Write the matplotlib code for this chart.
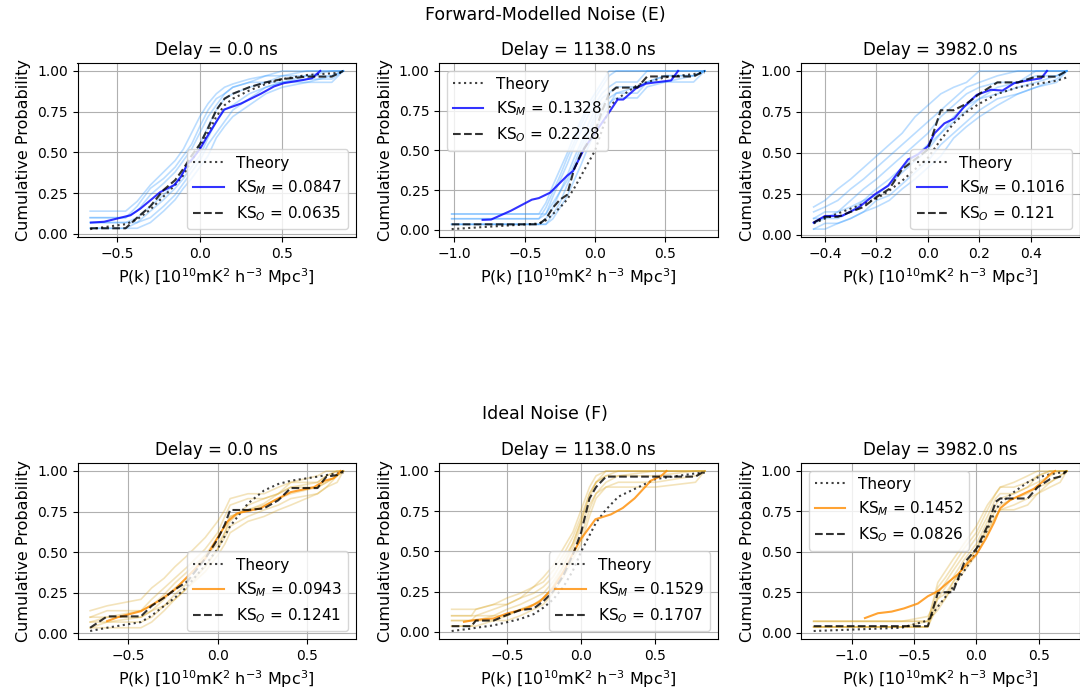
import numpy as np
import matplotlib.pyplot as plt

# ---- top row: forward-modelled noise (E) ----
delays = ['0.0', '1138.0', '3982.0']

grid_e0 = [-0.665, -0.45, -0.38, -0.3, -0.22, -0.15, -0.1, -0.05, 0.0, 0.05, 0.1, 0.15, 0.2, 0.3, 0.4, 0.5, 0.65, 0.8, 0.87]
obs_e0 = [0.035, 0.035, 0.10, 0.17, 0.27, 0.33, 0.40, 0.48, 0.55, 0.65, 0.76, 0.83, 0.86, 0.90, 0.93, 0.95, 0.965, 0.965, 1.0]
theory_e0 = [0.03, 0.06, 0.09, 0.15, 0.23, 0.30, 0.36, 0.45, 0.53, 0.62, 0.72, 0.79, 0.83, 0.88, 0.92, 0.95, 0.975, 0.985, 0.99]
med_x_e0 = [-0.66, -0.58, -0.42, -0.36, -0.24, -0.155, -0.115, -0.075, -0.045, 0.0, 0.046, 0.107, 0.147, 0.25, 0.37, 0.45, 0.51, 0.63, 0.68, 0.73]
med_y_e0 = [0.07, 0.075, 0.115, 0.156, 0.257, 0.3, 0.35, 0.43, 0.46, 0.52, 0.6, 0.7, 0.763, 0.8, 0.86, 0.905, 0.925, 0.945, 0.955, 1.0]
boot_e0 = [
    [0.14, 0.14, 0.20, 0.30, 0.38, 0.45, 0.52, 0.62, 0.72, 0.80, 0.86, 0.90, 0.92, 0.95, 0.97, 1.0, 1.0, 1.0, 1.0],
    [0.10, 0.10, 0.14, 0.24, 0.31, 0.38, 0.45, 0.52, 0.62, 0.72, 0.79, 0.86, 0.90, 0.93, 0.93, 0.97, 1.0, 1.0, 1.0],
    [0.07, 0.07, 0.10, 0.17, 0.24, 0.31, 0.38, 0.45, 0.55, 0.66, 0.76, 0.83, 0.86, 0.90, 0.93, 0.93, 0.97, 0.97, 1.0],
    [0.035, 0.035, 0.07, 0.14, 0.21, 0.28, 0.34, 0.41, 0.48, 0.59, 0.69, 0.76, 0.79, 0.86, 0.90, 0.93, 0.93, 0.97, 1.0],
    [0.07, 0.07, 0.07, 0.10, 0.17, 0.24, 0.31, 0.38, 0.45, 0.55, 0.62, 0.69, 0.76, 0.83, 0.90, 0.93, 0.95, 0.95, 1.0],
    [0.035, 0.035, 0.035, 0.07, 0.14, 0.21, 0.28, 0.34, 0.41, 0.48, 0.59, 0.66, 0.72, 0.79, 0.86, 0.90, 0.93, 0.93, 1.0],
    [0.10, 0.10, 0.17, 0.28, 0.34, 0.41, 0.48, 0.55, 0.66, 0.76, 0.83, 0.86, 0.90, 0.93, 0.97, 0.97, 0.97, 1.0, 1.0],
]

grid_e1 = [-1.02, -0.4, -0.35, -0.3, -0.25, -0.2, -0.15, -0.1, -0.05, 0.0, 0.05, 0.1, 0.15, 0.3, 0.37, 0.5, 0.7, 0.78]
obs_e1 = [0.035, 0.035, 0.07, 0.14, 0.19, 0.22, 0.38, 0.48, 0.55, 0.62, 0.75, 0.86, 0.895, 0.895, 0.965, 0.965, 0.965, 1.0]
theory_e1 = [0.005, 0.04, 0.06, 0.10, 0.14, 0.19, 0.26, 0.34, 0.42, 0.50, 0.63, 0.77, 0.82, 0.91, 0.93, 0.96, 0.98, 0.99]
med_x_e1 = [-0.8, -0.74, -0.6, -0.45, -0.4, -0.32, -0.2, -0.157, -0.075, 0.03, 0.077, 0.16, 0.2, 0.29, 0.36, 0.54, 0.59]
med_y_e1 = [0.063, 0.065, 0.12, 0.19, 0.2, 0.234, 0.34, 0.37, 0.516, 0.65, 0.71, 0.82, 0.82, 0.89, 0.92, 0.94, 1.0]
boot_e1 = [
    [0.10, 0.10, 0.17, 0.28, 0.38, 0.48, 0.59, 0.69, 0.79, 0.86, 0.93, 1.0, 1.0, 1.0, 1.0, 1.0, 1.0, 1.0],
    [0.07, 0.07, 0.10, 0.21, 0.31, 0.41, 0.52, 0.62, 0.72, 0.79, 0.86, 0.90, 0.93, 0.93, 1.0, 1.0, 1.0, 1.0],
    [0.035, 0.035, 0.07, 0.14, 0.24, 0.34, 0.45, 0.55, 0.66, 0.76, 0.83, 0.86, 0.90, 0.90, 0.93, 0.93, 0.97, 1.0],
    [0.10, 0.10, 0.10, 0.17, 0.24, 0.31, 0.41, 0.52, 0.62, 0.72, 0.79, 0.83, 0.86, 0.86, 0.93, 0.97, 0.97, 1.0],
    [0.035, 0.035, 0.035, 0.10, 0.17, 0.28, 0.38, 0.48, 0.59, 0.69, 0.76, 0.80, 0.83, 0.83, 0.90, 0.93, 0.93, 1.0],
    [0.07, 0.07, 0.14, 0.24, 0.34, 0.45, 0.55, 0.66, 0.76, 0.83, 0.90, 0.97, 1.0, 1.0, 1.0, 1.0, 1.0, 1.0],
    [0.035, 0.035, 0.035, 0.07, 0.14, 0.21, 0.31, 0.41, 0.52, 0.62, 0.72, 0.79, 0.86, 0.90, 0.93, 0.97, 0.97, 1.0],
]

grid_e2 = [-0.444, -0.4, -0.35, -0.3, -0.25, -0.2, -0.15, -0.1, -0.05, 0.0, 0.05, 0.1, 0.15, 0.2, 0.27, 0.35, 0.42, 0.5, 0.54]
obs_e2 = [0.075, 0.11, 0.11, 0.14, 0.17, 0.23, 0.28, 0.40, 0.46, 0.52, 0.76, 0.76, 0.80, 0.86, 0.93, 0.93, 0.965, 0.965, 1.0]
theory_e2 = [0.07, 0.10, 0.13, 0.16, 0.19, 0.22, 0.27, 0.33, 0.40, 0.47, 0.58, 0.68, 0.75, 0.80, 0.86, 0.90, 0.92, 0.94, 0.96]
med_x_e2 = [-0.444, -0.4, -0.335, -0.27, -0.206, -0.154, -0.116, -0.077, -0.039, 0.0, 0.026, 0.064, 0.103, 0.14, 0.19, 0.245, 0.29, 0.335, 0.4, 0.44, 0.463]
med_y_e2 = [0.075, 0.115, 0.115, 0.166, 0.247, 0.3, 0.38, 0.46, 0.49, 0.54, 0.62, 0.68, 0.71, 0.78, 0.854, 0.885, 0.88, 0.925, 0.945, 0.955, 1.0]
boot_e2 = [
    [0.17, 0.21, 0.28, 0.34, 0.41, 0.48, 0.55, 0.62, 0.72, 0.79, 0.86, 0.90, 0.93, 1.0, 1.0, 1.0, 1.0, 1.0, 1.0],
    [0.14, 0.17, 0.21, 0.28, 0.34, 0.41, 0.48, 0.55, 0.62, 0.69, 0.76, 0.83, 0.90, 0.93, 0.97, 1.0, 1.0, 1.0, 1.0],
    [0.10, 0.14, 0.14, 0.21, 0.28, 0.34, 0.41, 0.48, 0.55, 0.62, 0.72, 0.79, 0.86, 0.90, 0.93, 0.93, 1.0, 1.0, 1.0],
    [0.07, 0.10, 0.10, 0.14, 0.21, 0.28, 0.34, 0.41, 0.48, 0.55, 0.62, 0.72, 0.79, 0.83, 0.86, 0.90, 0.93, 0.97, 1.0],
    [0.035, 0.07, 0.07, 0.10, 0.14, 0.21, 0.24, 0.31, 0.38, 0.45, 0.55, 0.62, 0.69, 0.76, 0.83, 0.86, 0.90, 0.93, 1.0],
    [0.10, 0.10, 0.14, 0.17, 0.21, 0.24, 0.31, 0.38, 0.45, 0.52, 0.62, 0.69, 0.76, 0.83, 0.90, 0.93, 0.97, 0.97, 1.0],
    [0.035, 0.035, 0.07, 0.10, 0.14, 0.17, 0.21, 0.28, 0.34, 0.41, 0.48, 0.59, 0.66, 0.72, 0.79, 0.86, 0.90, 0.95, 1.0],
]

ks_model_e = ['0.0847', '0.1328', '0.1016']
ks_obs_e = ['0.0635', '0.2228', '0.121']

# ---- bottom row: ideal noise (F) ----
grid_f0 = [-0.715, -0.62, -0.43, -0.37, -0.3, -0.24, -0.17, -0.07, 0.0, 0.04, 0.07, 0.17, 0.26, 0.34, 0.41, 0.56, 0.61, 0.67, 0.705]
obs_f0 = [0.035, 0.105, 0.105, 0.17, 0.22, 0.27, 0.32, 0.46, 0.58, 0.67, 0.76, 0.76, 0.77, 0.82, 0.895, 0.895, 0.965, 0.975, 1.0]
theory_f0 = [0.015, 0.035, 0.07, 0.11, 0.17, 0.22, 0.29, 0.42, 0.52, 0.60, 0.66, 0.80, 0.88, 0.92, 0.94, 0.965, 0.975, 0.985, 0.99]
med_x_f0 = [-0.62, -0.56, -0.43, -0.33, -0.24, -0.16, -0.07, 0.0, 0.056, 0.11, 0.24, 0.32, 0.41, 0.54, 0.6, 0.65, 0.69]
med_y_f0 = [0.076, 0.1, 0.137, 0.2, 0.27, 0.36, 0.46, 0.59, 0.69, 0.74, 0.77, 0.82, 0.87, 0.9, 0.94, 0.955, 1.0]
boot_f0 = [
    [0.14, 0.17, 0.21, 0.28, 0.34, 0.41, 0.48, 0.59, 0.69, 0.76, 0.83, 0.86, 0.86, 0.90, 0.93, 0.97, 1.0, 1.0, 1.0],
    [0.10, 0.14, 0.14, 0.21, 0.28, 0.34, 0.41, 0.52, 0.62, 0.72, 0.79, 0.83, 0.83, 0.86, 0.90, 0.93, 0.97, 1.0, 1.0],
    [0.07, 0.10, 0.10, 0.14, 0.21, 0.28, 0.34, 0.48, 0.59, 0.66, 0.72, 0.76, 0.79, 0.83, 0.86, 0.90, 0.93, 0.97, 1.0],
    [0.035, 0.07, 0.07, 0.10, 0.17, 0.24, 0.31, 0.41, 0.52, 0.59, 0.66, 0.72, 0.76, 0.79, 0.83, 0.86, 0.90, 0.93, 1.0],
    [0.035, 0.035, 0.035, 0.07, 0.14, 0.21, 0.28, 0.38, 0.48, 0.55, 0.62, 0.69, 0.72, 0.76, 0.79, 0.86, 0.90, 0.97, 1.0],
    [0.10, 0.10, 0.14, 0.17, 0.24, 0.31, 0.38, 0.48, 0.55, 0.62, 0.69, 0.79, 0.83, 0.86, 0.93, 0.93, 0.97, 1.0, 1.0],
    [0.07, 0.07, 0.10, 0.14, 0.17, 0.21, 0.28, 0.41, 0.52, 0.62, 0.72, 0.76, 0.80, 0.86, 0.90, 0.90, 0.93, 0.97, 1.0],
]

grid_f1 = [-0.873, -0.74, -0.71, -0.59, -0.5, -0.41, -0.32, -0.255, -0.19, -0.12, -0.056, 0.0, 0.056, 0.1, 0.167, 0.25, 0.5, 0.77, 0.833]
obs_f1 = [0.035, 0.035, 0.07, 0.07, 0.105, 0.135, 0.145, 0.19, 0.25, 0.35, 0.48, 0.62, 0.83, 0.90, 0.965, 0.965, 0.965, 0.965, 1.0]
theory_f1 = [0.005, 0.02, 0.025, 0.04, 0.06, 0.08, 0.11, 0.15, 0.20, 0.28, 0.38, 0.50, 0.60, 0.68, 0.76, 0.84, 0.95, 0.985, 0.99]
med_x_f1 = [-0.79, -0.72, -0.59, -0.5, -0.37, -0.28, -0.19, -0.12, -0.056, 0.0, 0.096, 0.2, 0.28, 0.36, 0.47, 0.54, 0.575]
med_y_f1 = [0.062, 0.073, 0.083, 0.114, 0.145, 0.187, 0.27, 0.373, 0.488, 0.58, 0.70, 0.73, 0.77, 0.83, 0.94, 0.97, 1.0]
boot_f1 = [
    [0.14, 0.14, 0.14, 0.17, 0.21, 0.24, 0.28, 0.34, 0.41, 0.52, 0.62, 0.76, 0.90, 0.97, 1.0, 1.0, 1.0, 1.0, 1.0],
    [0.10, 0.10, 0.10, 0.14, 0.17, 0.21, 0.24, 0.28, 0.34, 0.45, 0.55, 0.69, 0.83, 0.93, 1.0, 1.0, 1.0, 1.0, 1.0],
    [0.07, 0.07, 0.10, 0.10, 0.14, 0.17, 0.21, 0.24, 0.31, 0.41, 0.52, 0.66, 0.79, 0.86, 0.93, 0.97, 0.97, 1.0, 1.0],
    [0.035, 0.035, 0.07, 0.07, 0.10, 0.14, 0.17, 0.21, 0.28, 0.38, 0.48, 0.59, 0.76, 0.86, 0.90, 0.93, 0.93, 0.97, 1.0],
    [0.035, 0.035, 0.035, 0.07, 0.07, 0.10, 0.14, 0.17, 0.24, 0.34, 0.45, 0.55, 0.72, 0.83, 0.90, 0.90, 0.90, 0.93, 1.0],
    [0.07, 0.07, 0.07, 0.10, 0.10, 0.14, 0.17, 0.21, 0.28, 0.41, 0.55, 0.69, 0.86, 0.93, 0.97, 0.97, 1.0, 1.0, 1.0],
    [0.10, 0.10, 0.14, 0.17, 0.17, 0.21, 0.28, 0.31, 0.38, 0.48, 0.59, 0.72, 0.86, 0.93, 0.97, 1.0, 1.0, 1.0, 1.0],
]

grid_f2 = [-1.305, -0.6, -0.39, -0.31, -0.25, -0.19, -0.1, 0.0, 0.088, 0.154, 0.19, 0.3, 0.41, 0.49, 0.59, 0.67, 0.724]
obs_f2 = [0.04, 0.04, 0.04, 0.245, 0.25, 0.25, 0.43, 0.52, 0.66, 0.81, 0.83, 0.83, 0.83, 0.90, 0.95, 0.965, 1.0]
theory_f2 = [0.01, 0.03, 0.075, 0.16, 0.22, 0.28, 0.38, 0.50, 0.64, 0.76, 0.80, 0.87, 0.93, 0.96, 0.98, 0.99, 0.995]
med_x_f2 = [-0.894, -0.79, -0.68, -0.58, -0.47, -0.39, -0.31, -0.23, -0.15, -0.07, 0.0, 0.074, 0.14, 0.19, 0.27, 0.38, 0.46, 0.54, 0.59, 0.63]
med_y_f2 = [0.09, 0.12, 0.13, 0.15, 0.18, 0.225, 0.256, 0.31, 0.36, 0.43, 0.485, 0.58, 0.68, 0.77, 0.82, 0.86, 0.89, 0.94, 0.98, 1.0]
boot_f2 = [
    [0.07, 0.07, 0.07, 0.31, 0.38, 0.45, 0.55, 0.66, 0.79, 0.86, 0.90, 0.93, 0.97, 1.0, 1.0, 1.0, 1.0],
    [0.035, 0.035, 0.035, 0.24, 0.31, 0.38, 0.48, 0.59, 0.72, 0.83, 0.86, 0.86, 0.90, 0.93, 0.97, 1.0, 1.0],
    [0.07, 0.07, 0.10, 0.21, 0.28, 0.34, 0.45, 0.55, 0.69, 0.79, 0.83, 0.86, 0.90, 0.97, 1.0, 1.0, 1.0],
    [0.035, 0.035, 0.035, 0.17, 0.21, 0.28, 0.38, 0.48, 0.62, 0.72, 0.76, 0.79, 0.83, 0.86, 0.93, 0.97, 1.0],
    [0.035, 0.035, 0.07, 0.28, 0.34, 0.41, 0.52, 0.62, 0.76, 0.86, 0.90, 0.90, 0.93, 0.97, 1.0, 1.0, 1.0],
    [0.07, 0.07, 0.07, 0.14, 0.21, 0.31, 0.41, 0.52, 0.66, 0.76, 0.79, 0.83, 0.86, 0.90, 0.93, 0.97, 1.0],
    [0.035, 0.035, 0.035, 0.21, 0.24, 0.31, 0.41, 0.52, 0.64, 0.72, 0.76, 0.76, 0.79, 0.86, 0.90, 0.93, 1.0],
]

ks_model_f = ['0.0943', '0.1529', '0.1452']
ks_obs_f = ['0.1241', '0.1707', '0.0826']

rows = [
    dict(grids=[grid_e0, grid_e1, grid_e2], obs=[obs_e0, obs_e1, obs_e2],
         theory=[theory_e0, theory_e1, theory_e2],
         med_x=[med_x_e0, med_x_e1, med_x_e2], med_y=[med_y_e0, med_y_e1, med_y_e2],
         boot=[boot_e0, boot_e1, boot_e2], ks_m=ks_model_e, ks_o=ks_obs_e,
         boot_color='dodgerblue', med_color='blue',
         legend_loc=['lower right', 'upper left', 'lower right']),
    dict(grids=[grid_f0, grid_f1, grid_f2], obs=[obs_f0, obs_f1, obs_f2],
         theory=[theory_f0, theory_f1, theory_f2],
         med_x=[med_x_f0, med_x_f1, med_x_f2], med_y=[med_y_f0, med_y_f1, med_y_f2],
         boot=[boot_f0, boot_f1, boot_f2], ks_m=ks_model_f, ks_o=ks_obs_f,
         boot_color='goldenrod', med_color='darkorange',
         legend_loc=['lower right', 'lower right', 'upper left']),
]

W, H = 1080, 696
fig = plt.figure(figsize=(W / 100, H / 100), dpi=100)

lefts = [77.5, 439, 801]
row_box = [(63, 237), (463, 639)]
xlabel = r'P(k) [$10^{10}$mK$^2$ h$^{-3}$ Mpc$^3$]'

for r, row in enumerate(rows):
    top, bottom = row_box[r]
    for c in range(3):
        ax = fig.add_axes([lefts[c] / W, 1 - bottom / H, 278.5 / W, (bottom - top) / H])
        gx = row['grids'][c]
        # bootstrap realisations, drawn faintly underneath
        for yb in row['boot'][c]:
            ax.plot(gx, yb, color=row['boot_color'], alpha=0.3, lw=1.2)
        ax.plot(gx, row['theory'][c], ':', color='k', alpha=0.75, lw=1.5, label='Theory')
        ax.plot(row['med_x'][c], row['med_y'][c], color=row['med_color'], alpha=0.8, lw=1.5,
                label=r'KS$_M$ = ' + row['ks_m'][c])
        ax.plot(gx, row['obs'][c], '--', color='k', alpha=0.8, lw=1.5,
                label=r'KS$_O$ = ' + row['ks_o'][c])
        ax.set_yticks([0, 0.25, 0.5, 0.75, 1.0])
        ax.grid(True)
        ax.tick_params(labelsize=10)
        ax.set_title('Delay = %s ns' % delays[c], fontsize=12)
        ax.set_xlabel(xlabel, fontsize=11.5)
        ax.set_ylabel('Cumulative Probability', fontsize=11.5)
        ax.legend(loc=row['legend_loc'][c], fontsize=11)

fig.text(545 / W, 1 - 15 / H, 'Forward-Modelled Noise (E)', ha='center', va='center', fontsize=12.5)
fig.text(545 / W, 1 - 414 / H, 'Ideal Noise (F)', ha='center', va='center', fontsize=12.5)

fig.savefig('out.png', dpi=100)
